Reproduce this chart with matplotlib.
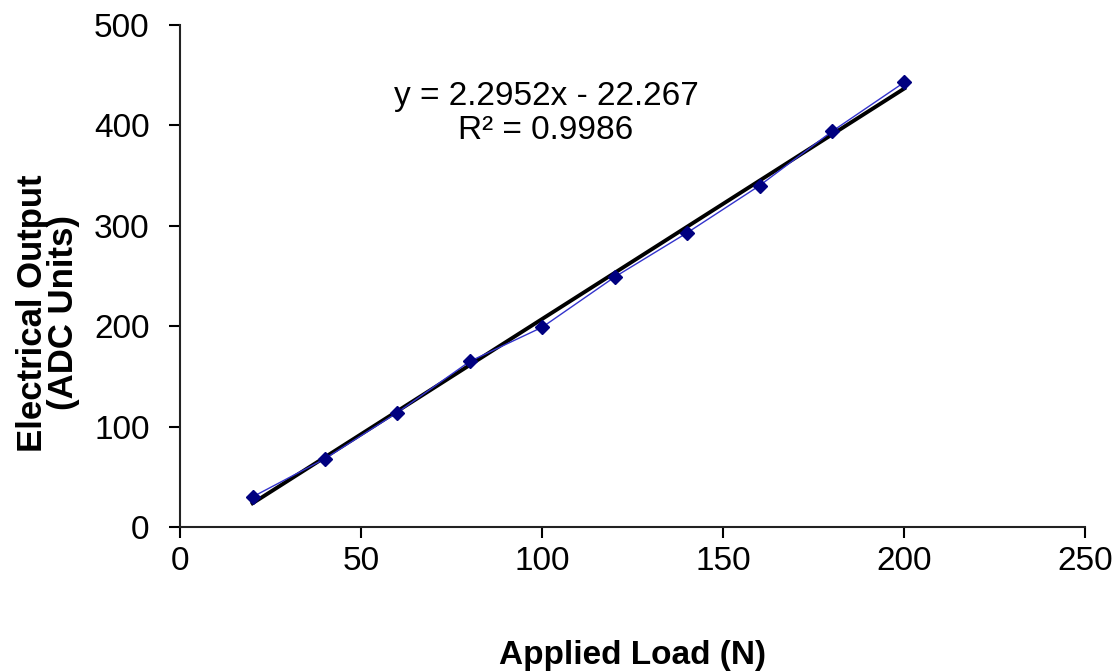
import numpy as np
import matplotlib
matplotlib.use('Agg')
import matplotlib.pyplot as plt

plt.rcParams['font.family'] = ['Liberation Sans', 'DejaVu Sans']

load = [20, 40, 60, 80, 100, 120, 140, 160, 180, 200]
output = [30, 68, 114, 165, 199, 249, 293, 340, 394, 443]

slope = 2.2952
intercept = -22.267
r2 = 0.9986

fig = plt.figure(figsize=(11.19, 6.72), dpi=100)
ax = fig.add_axes([0.161, 0.2158, 0.809, 0.747])

ax.plot(load, output, color='#3333cc', linewidth=1, marker='D', markersize=7,
        markerfacecolor='#000080', markeredgecolor='#000080', zorder=3)
xfit = np.array([load[0], load[-1]])
ax.plot(xfit, slope * xfit + intercept, color='black', linewidth=2.8, zorder=2)

ax.set_xlim(0, 250)
ax.set_ylim(0, 500)
ax.set_xticks([0, 50, 100, 150, 200, 250])
ax.set_yticks([0, 100, 200, 300, 400, 500])
for s in ['top', 'right']:
    ax.spines[s].set_visible(False)
for s in ['left', 'bottom']:
    ax.spines[s].set_linewidth(1.5)
    ax.spines[s].set_color('#222222')
ax.tick_params(direction='out', length=8, width=1.5, labelsize=24)
ax.tick_params(axis='y', pad=14)
ax.tick_params(axis='x', pad=6)

ax.text(101, 412, f'y = {slope}x - {-intercept}\nR\u00b2 = {r2}',
        ha='center', va='center', fontsize=24, linespacing=1.1)

ax.set_xlabel('Applied Load (N)', fontsize=24, fontweight='bold', labelpad=45)
# y label placed by hand, Excel puts it a bit below the axis middle
fig.text(0.043, 1 - 313 / 672, 'Electrical Output\n(ADC Units)', rotation=90,
         ha='center', va='center', multialignment='center',
         fontsize=25, fontweight='bold', linespacing=0.95)

fig.savefig('out.png', dpi=100)
